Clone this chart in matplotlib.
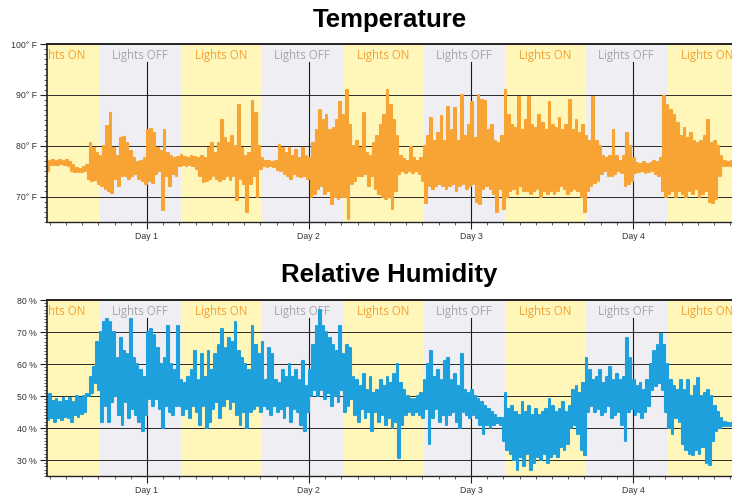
import numpy as np
import matplotlib
matplotlib.use('Agg')
import matplotlib.pyplot as plt
from matplotlib.ticker import FixedLocator, MultipleLocator

# light schedule, hours since start of day 0
lights_on = [(5, 17), (29, 41), (53, 65), (77, 89), (101, 113)]
lights_off = [(17, 29), (41, 53), (65, 77), (89, 101)]
day_hours = [24, 48, 72, 96]
day_labels = ['Day 1', 'Day 2', 'Day 3', 'Day 4']

# half-hour readings starting at 9:30, min / max inside each half hour (deg F)
temp_lo = [
    75.0, 76.2, 76.3, 76.2, 76.4, 76.2, 76.0, 75.0, 74.8, 74.9, 74.8, 75.0,
    73.5, 73.0, 73.2, 72.5, 72.0, 71.5, 71.0, 70.7, 73.5, 72.0, 74.0, 74.0,
    73.5, 74.0, 74.5, 73.5, 73.0, 72.5, 73.0, 72.7, 74.5, 75.0, 67.3, 74.0,
    72.0, 74.5, 74.0, 76.0, 76.3, 76.0, 76.2, 76.0, 75.5, 74.0, 72.8, 73.0,
    73.5, 74.0, 73.5, 73.0, 73.5, 74.0, 73.2, 74.0, 69.4, 73.5, 72.5, 67.0,
    72.5, 74.0, 70.0, 75.5, 76.0, 75.8, 76.0, 75.8, 75.3, 75.0, 74.5, 74.0,
    73.5, 74.5, 74.0, 73.8, 74.0, 73.5, 70.0, 70.5, 71.4, 72.0, 70.5, 71.0,
    68.5, 70.0, 69.5, 70.0, 70.0, 65.5, 72.5, 73.0, 74.0, 74.0, 74.5, 72.0,
    74.0, 71.5, 70.5, 70.0, 69.5, 70.0, 67.5, 71.0, 74.5, 75.0, 74.6, 75.0,
    74.6, 75.0, 74.5, 73.0, 68.8, 72.0, 71.5, 72.0, 72.5, 72.0, 71.5, 72.0,
    72.5, 71.0, 72.0, 72.5, 71.5, 72.0, 72.5, 69.0, 68.5, 71.5, 72.0, 71.5,
    70.5, 67.0, 71.5, 67.5, 70.0, 71.0, 71.5, 70.5, 72.0, 71.0, 71.0, 70.5,
    71.0, 71.5, 70.0, 71.0, 70.5, 71.0, 70.5, 71.0, 72.0, 71.5, 70.5, 71.0,
    71.5, 71.0, 70.0, 67.0, 71.0, 72.0, 72.7, 73.0, 74.5, 75.0, 74.0, 74.0,
    74.5, 75.0, 74.6, 72.0, 72.5, 73.0, 74.6, 74.8, 75.0, 74.6, 74.8, 75.0,
    74.5, 74.0, 71.0, 70.0, 70.5, 71.0, 70.0, 71.0, 70.5, 70.0, 71.0, 70.5,
    71.5, 70.0, 70.5, 71.0, 69.0, 68.8, 69.5, 74.0, 76.0, 76.0, 76.1,
]
temp_hi = [
    77.0, 77.2, 77.0, 77.1, 77.0, 77.2, 76.8, 76.2, 75.6, 75.5, 75.8, 76.2,
    80.5, 79.5, 78.5, 78.0, 80.0, 83.8, 86.5, 79.5, 78.0, 81.5, 81.8, 80.5,
    79.0, 77.5, 76.8, 77.0, 77.5, 83.0, 83.2, 82.5, 79.5, 79.0, 83.0, 78.5,
    78.0, 77.5, 77.8, 78.2, 77.8, 77.5, 78.0, 77.8, 77.5, 78.0, 77.5, 79.5,
    80.5, 78.5, 80.5, 85.0, 81.5, 80.5, 82.0, 80.0, 88.0, 79.5, 78.0, 78.5,
    88.7, 86.5, 80.0, 77.5, 77.0, 77.0, 76.8, 77.0, 80.2, 79.5, 78.5, 79.5,
    78.0, 79.2, 77.5, 79.5, 78.0, 77.5, 80.5, 83.0, 87.0, 85.0, 86.0, 83.0,
    83.5, 85.0, 88.5, 86.0, 91.0, 84.0, 80.0, 81.0, 79.5, 86.4, 78.5, 78.0,
    80.5, 82.0, 84.0, 86.0, 91.0, 88.0, 85.0, 82.0, 78.0, 77.3, 77.0, 79.8,
    77.5, 77.0, 77.5, 80.0, 82.0, 85.5, 81.0, 82.5, 85.8, 81.0, 87.7, 83.0,
    87.5, 81.0, 90.0, 82.0, 84.0, 88.5, 81.5, 90.0, 89.0, 88.7, 83.0, 84.0,
    81.0, 80.5, 82.0, 91.0, 86.0, 84.0, 83.5, 89.5, 83.0, 85.0, 89.5, 84.0,
    83.5, 86.0, 84.5, 83.0, 88.5, 84.0, 83.5, 85.5, 83.0, 84.0, 89.0, 83.0,
    85.0, 82.5, 84.0, 82.0, 81.0, 89.5, 81.0, 80.0, 78.0, 77.5, 78.0, 83.0,
    78.0, 77.0, 78.0, 82.5, 80.0, 77.5, 76.6, 76.5, 76.8, 76.4, 76.6, 77.0,
    76.8, 77.5, 89.7, 88.0, 87.0, 86.0, 84.5, 82.0, 83.5, 81.5, 82.5, 81.0,
    80.5, 81.0, 82.0, 85.0, 80.5, 81.0, 80.0, 78.0, 77.0, 76.8, 76.9,
]

# relative humidity, same half-hour bins (%)
hum_lo = [
    42.5, 43.0, 42.0, 43.0, 42.5, 43.5, 43.0, 42.0, 44.0, 43.5, 44.5, 45.0,
    50, 51, 54, 52, 42, 47, 42, 48, 50, 44, 41, 48,
    43, 46, 44, 42, 39, 44, 49, 47, 49, 46, 40, 47,
    45, 44, 47, 47, 44, 46, 43, 47, 45, 41, 47, 40,
    42, 46, 48, 43, 47, 49, 46, 48, 44, 41, 45, 40,
    45, 46, 47, 45, 47, 46, 44, 47, 45, 46, 43, 47,
    42, 46, 45, 41, 39, 45, 50, 52, 50, 52, 49, 51,
    47, 50, 48, 52, 45, 47, 49, 44, 42, 46, 43, 45,
    39, 45, 42, 44, 41, 43, 40, 42, 30.5, 41, 44, 45,
    44, 45, 44, 43, 46, 35, 43, 46, 42, 44, 41, 44,
    45, 42, 40, 45, 44, 43, 44, 43, 41, 38, 41, 40,
    41, 41.5, 41, 36, 33, 32, 30, 27, 31, 28, 32, 27,
    29, 31, 30, 32, 29, 31, 32, 31, 34, 33, 35, 40,
    41, 38, 33, 31.5, 45, 47, 45, 46, 44, 45, 47, 43,
    44, 45, 41, 36, 45, 46, 44, 45, 43, 45, 47, 52,
    53, 54, 52, 45, 40, 38, 43, 42, 35, 33, 32, 31.5,
    33, 32, 34, 29, 28.5, 36, 39, 40, 40.5, 40.5, 40.5,
]
hum_hi = [
    50.5, 48.5, 49.0, 48.0, 49.5, 48.5, 49.5, 48.0, 50.0, 49.5, 50.0, 50.5,
    56, 59, 67, 70, 73, 74, 73, 70, 62, 68, 64, 63,
    74, 62, 60, 58, 56, 70, 71, 69, 65, 60, 62, 72,
    60, 58, 72, 55, 54, 56, 58, 64, 55, 63, 56, 64,
    58, 63, 66, 71, 65, 68, 67, 73, 64, 62, 60, 58,
    72, 66, 63, 67, 55, 65, 63, 55, 54, 58, 56, 60,
    56, 58, 55, 61, 53, 58, 66, 72, 77, 72, 70, 68,
    66, 64, 72, 63, 66, 65, 56, 55, 53, 57, 52, 56,
    51, 52, 55, 53, 56, 54, 57, 60, 54, 52, 50, 49,
    49, 50, 51, 55, 60, 64, 56, 58, 55, 61, 62, 55,
    57, 53, 63, 52, 51, 52, 50, 49, 48, 47, 46, 45,
    44, 43, 43, 51, 46, 47, 45, 44, 48, 45, 47, 44,
    46, 44, 45, 46, 49, 47, 45, 46, 48, 45, 47, 52,
    53, 51, 54, 62, 58, 55, 56, 58, 54, 56, 59, 55,
    57, 55, 56, 68, 62, 55, 53, 54, 52, 55, 60, 64,
    66, 69.5, 66, 60, 55, 53, 52, 55, 52, 55, 50, 53,
    55.5, 50, 51, 52, 50, 47, 45, 43, 42, 41.5, 41.5,
]

temp_ticks = [70, 80, 90, 100]
temp_ticklabels = ['70° F', '80° F', '90° F', '100° F']
hum_ticks = [30, 40, 50, 60, 70, 80]
hum_ticklabels = ['30 %', '40 %', '50 %', '60 %', '70 %', '80 %']

YELLOW = '#fff6b9'
GREY = '#efeff3'
ON_TXT = '#f3a136'
OFF_TXT = '#a6a6ab'


def panel(ax, lo, hi, color, ylim, ticks, ticklabels, title, title_pad, label_y):
    # trace goes min -> max inside each half hour
    n = len(lo)
    hours = 9.5 + 0.5 * np.arange(n)
    tt = np.empty(2 * n)
    yy = np.empty(2 * n)
    tt[0::2] = hours - 0.125
    tt[1::2] = hours + 0.125
    yy[0::2] = lo
    yy[1::2] = hi

    for a, b in lights_on:
        ax.axvspan(a, b, color=YELLOW, lw=0, zorder=0)
        ax.text((a + b) / 2, label_y, 'Lights ON', transform=ax.get_xaxis_transform(),
                ha='center', va='center', color=ON_TXT, fontsize=8.3,
                family='Open Sans', clip_on=True, zorder=1)
    for a, b in lights_off:
        ax.axvspan(a, b, color=GREY, lw=0, zorder=0)
        ax.text((a + b) / 2, label_y, 'Lights OFF', transform=ax.get_xaxis_transform(),
                ha='center', va='center', color=OFF_TXT, fontsize=8.3,
                family='Open Sans', clip_on=True, zorder=1)
    for t in ticks[:-1]:
        ax.axhline(t, color='#2a2a2a', lw=0.7, zorder=1)
    for d in day_hours:
        ax.axvline(d, ymax=0.9, color='#1a1a1a', lw=0.8, zorder=1)
    ax.plot(tt, yy, color=color, lw=1.5, drawstyle='steps-mid', zorder=2)

    ax.set_xlim(9.2, 110.67)
    ax.set_ylim(*ylim)
    ax.yaxis.set_major_locator(FixedLocator(ticks))
    ax.set_yticklabels(ticklabels)
    ax.yaxis.set_minor_locator(MultipleLocator(1))
    ax.xaxis.set_major_locator(FixedLocator(day_hours))
    ax.set_xticklabels(day_labels)
    ax.xaxis.set_minor_locator(MultipleLocator(2.4))
    ax.tick_params(which='major', length=5, width=0.8, color='#222222',
                   labelsize=6.3, labelcolor='#333333', pad=2.5)
    ax.tick_params(which='minor', length=2.5, width=0.6, color='#444444')
    for lab in ax.get_xticklabels() + ax.get_yticklabels():
        lab.set_family('Liberation Sans')
    ax.spines['right'].set_visible(False)
    ax.spines['top'].set_linewidth(1.4)
    ax.spines['left'].set_linewidth(1.2)
    ax.spines['bottom'].set_linewidth(1.0)
    for s in ax.spines.values():
        s.set_color('#222222')
    ax.set_title(title, fontsize=18.5, fontweight='bold', family='Liberation Sans',
                 pad=title_pad)


fig = plt.figure(figsize=(7.32, 4.99), dpi=100)
ax1 = fig.add_axes([47 / 732, 277 / 499, 685 / 732, 178 / 499])
ax2 = fig.add_axes([47 / 732, 23 / 499, 685 / 732, 176 / 499])

panel(ax1, temp_lo, temp_hi, '#f7a434', (65, 100), temp_ticks, temp_ticklabels,
      'Temperature', 12, 0.938)
panel(ax2, hum_lo, hum_hi, '#1ea0dc', (25, 80), hum_ticks, hum_ticklabels,
      'Relative Humidity', 13, 0.933)

fig.savefig('out.png', dpi=100)
